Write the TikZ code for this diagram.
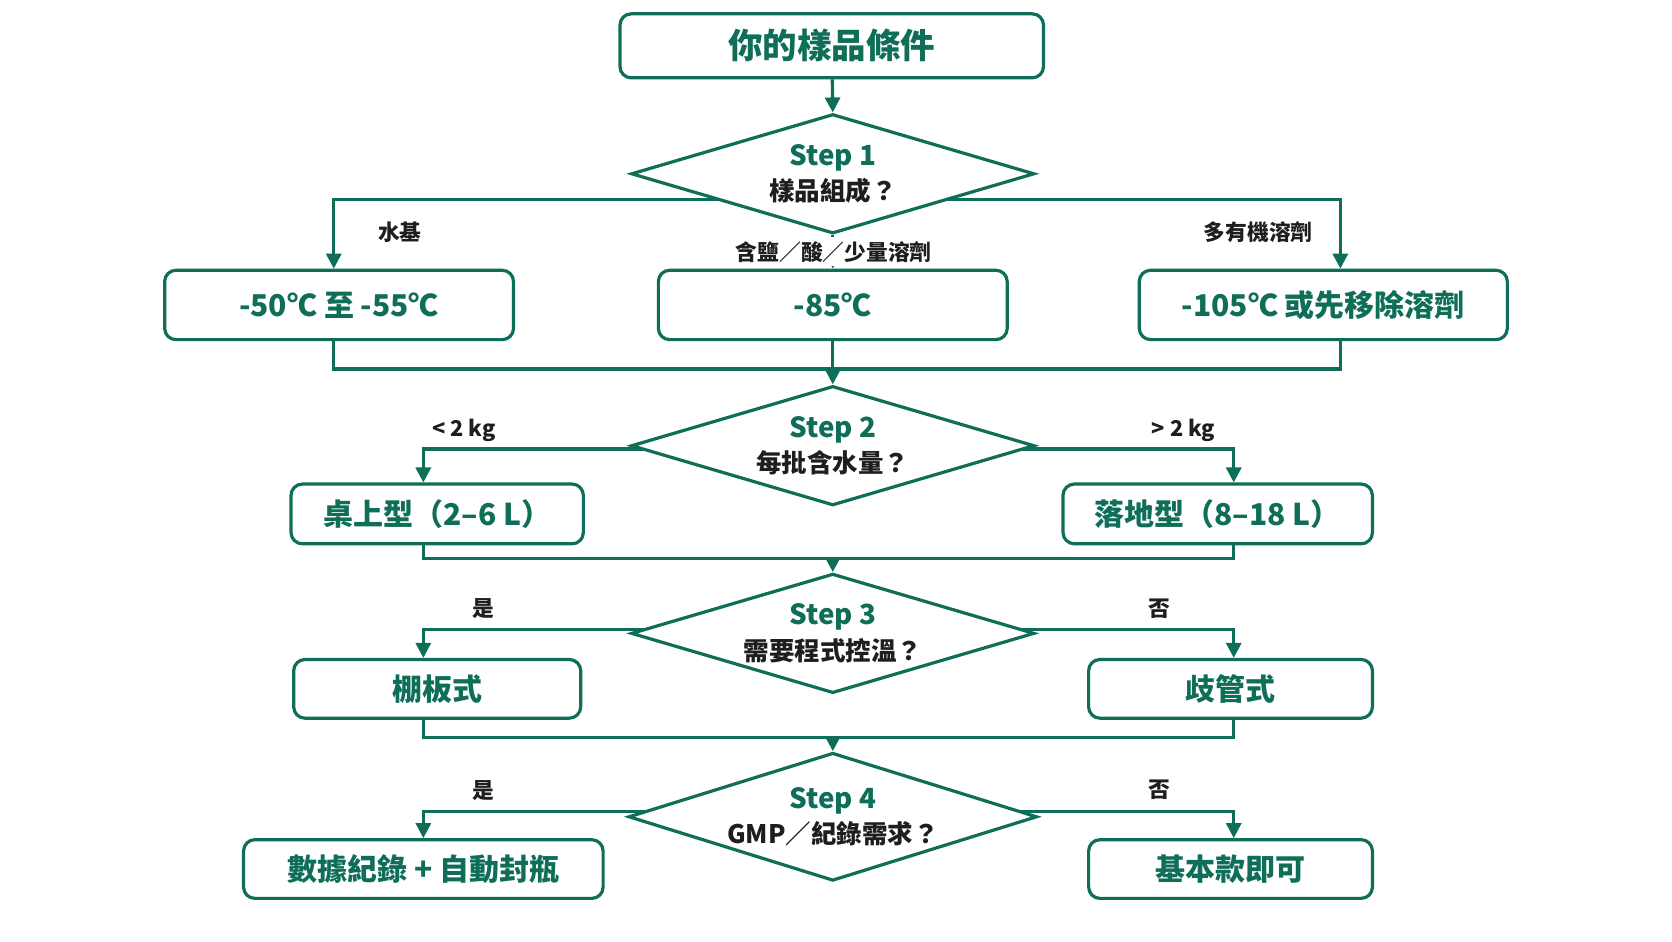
\documentclass[tikz,border=0pt]{standalone}
\usepackage{fontspec}
\setmainfont{Noto Sans CJK TC}
\usetikzlibrary{shapes.geometric,arrows.meta,backgrounds}
\definecolor{gr}{HTML}{0E6E58}
\definecolor{dk}{HTML}{1E1E1E}
\begin{document}
\begin{tikzpicture}[x=0.01cm,y=-0.01cm,
 box/.style={draw=gr,line width=0.85pt,rounded corners=3pt,fill=white,text=gr,font=\fontsize{8}{9}\selectfont\bfseries},
 dia/.style={draw=gr,line width=0.85pt,diamond,aspect=3.4,fill=white,inner sep=-12pt,align=center},
 ln/.style={draw=gr,line width=0.85pt},
 ar/.style={ln,-{Triangle[length=4pt,width=4pt]}},
 lb/.style={text=dk,font=\fontsize{5.8}{6}\selectfont\bfseries}]
\useasboundingbox (0,0) rectangle (1568,883);
\newcommand{\stp}[2]{{\color{gr}\fontsize{7.4}{8}\selectfont\bfseries #1}\\[-2.5pt]{\color{dk}\fontsize{6.8}{8}\selectfont\bfseries #2}}
\node[box,minimum width=397*0.2845pt,minimum height=60*0.2845pt,font=\fontsize{9.2}{10}\selectfont\bfseries] (t) at (780,43) {你的樣品條件};
\node[dia,minimum width=378*0.2845pt,minimum height=112*0.2845pt] (d1) at (781,163) {\stp{Step 1}{樣品組成？}};
\node[box,minimum width=327*0.2845pt,minimum height=65*0.2845pt] (a1) at (318,286) {-50℃ 至 -55℃};
\node[box,minimum width=327*0.2845pt,minimum height=65*0.2845pt] (a2) at (781,286) {-85℃};
\node[box,minimum width=345*0.2845pt,minimum height=65*0.2845pt] (a3) at (1241,286) {-105℃ 或先移除溶劑};
\node[dia,minimum width=378*0.2845pt,minimum height=112*0.2845pt] (d2) at (781,418) {\stp{Step 2}{每批含水量？}};
\node[box,minimum width=274*0.2845pt,minimum height=56*0.2845pt] (b1) at (410,482) {桌上型（2–6 L）};
\node[box,minimum width=290*0.2845pt,minimum height=56*0.2845pt] (b2) at (1142,482) {落地型（8–18 L）};
\node[dia,minimum width=378*0.2845pt,minimum height=112*0.2845pt] (d3) at (781,594) {\stp{Step 3}{需要程式控溫？}};
\node[box,minimum width=269*0.2845pt,minimum height=55*0.2845pt] (c1) at (410,646) {棚板式};
\node[box,minimum width=266*0.2845pt,minimum height=55*0.2845pt] (c2) at (1154,646) {歧管式};
\node[dia,minimum width=383*0.2845pt,minimum height=120*0.2845pt] (d4) at (781,766) {\stp{Step 4}{GMP／紀錄需求？}};
\node[box,minimum width=337*0.2845pt,minimum height=55*0.2845pt] (e1) at (397,815) {數據紀錄 + 自動封瓶};
\node[box,minimum width=266*0.2845pt,minimum height=55*0.2845pt] (e2) at (1154,815) {基本款即可};
\node[lb] (l1) at (375,218) {水基};
\node[lb,fill=white,inner sep=1pt] (l2) at (782,236) {含鹽／酸／少量溶劑};
\node[lb] (l3) at (1180,218) {多有機溶劑};
\node[lb] (l4) at (435,404) {< 2 kg};
\node[lb] (l5) at (1110,404) {> 2 kg};
\node[lb] (l6) at (453,571) {是};
\node[lb] (l7) at (1087,571) {否};
\node[lb] (l8) at (453,741) {是};
\node[lb] (l9) at (1087,741) {否};
\begin{scope}[on background layer]
\draw[ar] (t) -- (d1.north);
\draw[ar] ([yshift=-24*0.2845pt]d1.center) -| ([xshift=-5*0.2845pt]a1.north);
\draw[ar] ([yshift=-24*0.2845pt]d1.center) -| ([xshift=16*0.2845pt]a3.north);
\draw[ar] (d1.south) -- (a2.north);
\coordinate (m1) at (781,346);
\draw[ln] ([xshift=-5*0.2845pt]a1.south) |- (m1) -| ([xshift=16*0.2845pt]a3.south);
\draw[ar] (a2.south) -- (d2.north);
\draw[ar] ([yshift=-3*0.2845pt]d2.center) -| ([xshift=-13*0.2845pt]b1.north);
\draw[ar] ([yshift=-3*0.2845pt]d2.center) -| ([xshift=15*0.2845pt]b2.north);
\coordinate (m2) at (781,524);
\draw[ln] ([xshift=-13*0.2845pt]b1.south) |- (m2) -| ([xshift=15*0.2845pt]b2.south);
\draw[ar] (m2) -- (d3.north);
\draw[ar] ([yshift=4*0.2845pt]d3.center) -| ([xshift=-13*0.2845pt]c1.north);
\draw[ar] ([yshift=4*0.2845pt]d3.center) -| ([xshift=3*0.2845pt]c2.north);
\coordinate (m3) at (781,692);
\draw[ln] ([xshift=-13*0.2845pt]c1.south) |- (m3) -| ([xshift=3*0.2845pt]c2.south);
\draw[ar] (m3) -- (d4.north);
\draw[ar] ([yshift=5*0.2845pt]d4.center) -| (e1.north);
\draw[ar] ([yshift=5*0.2845pt]d4.center) -| ([xshift=3*0.2845pt]e2.north);
\end{scope}
\end{tikzpicture}
\end{document}
